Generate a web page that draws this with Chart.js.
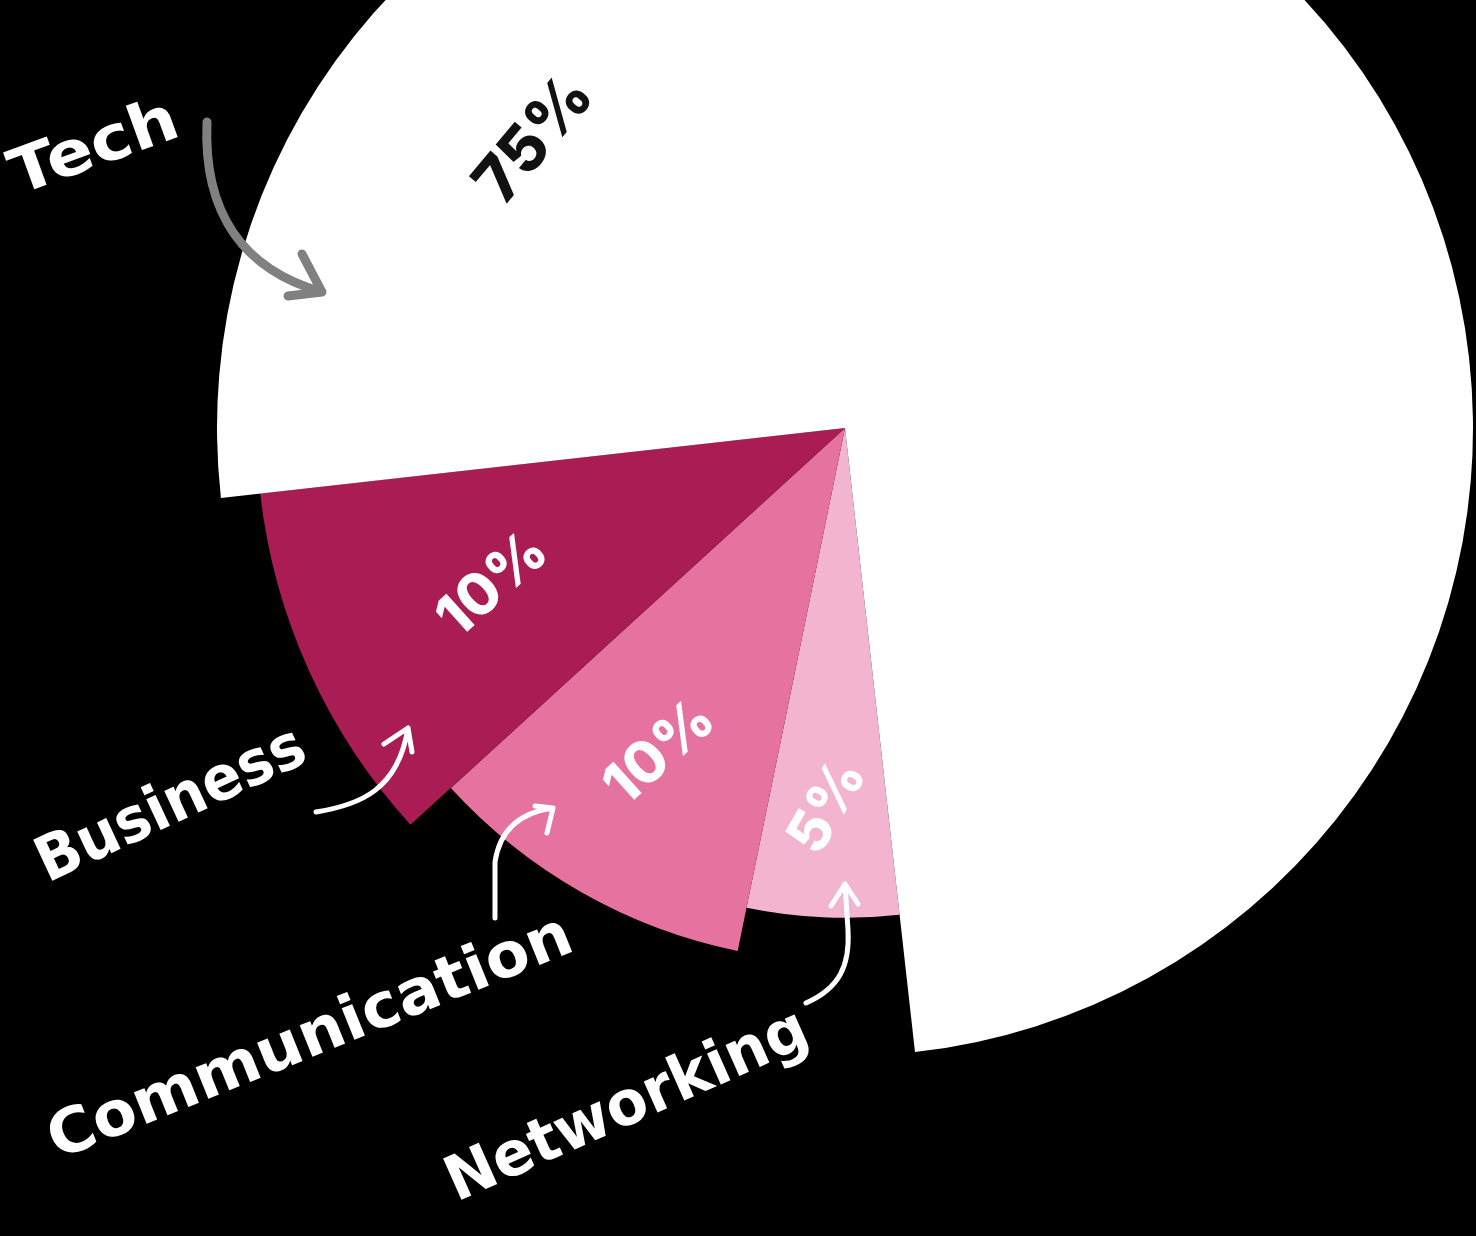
<!DOCTYPE html>
<html>
<head>
<meta charset="utf-8">
<title>Skills pie</title>
<script src="https://cdn.jsdelivr.net/npm/chart.js@4.4.1/dist/chart.umd.min.js"></script>
<style>
    html, body { margin: 0; padding: 0; background: #000; overflow: hidden; }
    body { width: 1476px; height: 1236px; position: relative; }
    #wrap { position: absolute; left: 0; top: -200px; width: 1476px; height: 1436px; }
</style>
</head>
<body>
<div id="wrap"><canvas id="myPieChart"></canvas></div>
<script>
// data, in drawing order (clockwise)
var categories = ['Networking', 'Communication', 'Business', 'Tech'];
var shares = [5, 10, 10, 75];
var percentLabels = ['5%', '10%', '10%', '75%'];

// styles
var sliceColors = ['#f2b4ce', '#e672a0', '#a91c54', '#ffffff'];
var radiusScale = [0.78, 0.85, 0.937, 1];

// label placement relative to pie centre: [dx, dy, rotation deg]
var pctPlace = [[-17, 379, -60], [-185, 325, -42], [-352, 157, -42], [-310, -288, -50]];
var pctColor = ['#fff', '#fff', '#fff', '#111'];
var namePlace = [[-217, 680, -24, 390], [-534, 612, -22, 560], [-673, 379, -25, 290], [-750, -278, -20, 175]];

// arrows: start, then segments (bezier = 3 pts, quad = 2, line = 1), tip arms
var arrows = [
    { color: '#fff', width: 5, start: [-39, 575], segs: [[[-5, 560], [5, 537], [3, 502]], [[0, 456]]], arms: [[-14, 478], [13, 476]] },
    { color: '#fff', width: 5, start: [-350, 490], segs: [[[-350, 434]], [[-343, 387], [-292, 380]]], arms: [[-310, 378], [-298, 405]] },
    { color: '#fff', width: 5, start: [-529, 384], segs: [[[-485, 377], [-447, 362], [-437, 300]]], arms: [[-461, 316], [-433, 324]] },
    { color: '#808080', width: 9, start: [-638, -306], segs: [[[-642, -213], [-600, -158], [-523, -136]]], arms: [[-543, -174], [-557, -132]] }
];

var shrinkSlices = {
    id: 'shrinkSlices',
    afterDatasetsUpdate: function (chart) {
        var meta = chart.getDatasetMeta(0);
        for (var i = 0; i < meta.data.length; i++) {
            meta.data[i].outerRadius = meta.data[i].outerRadius * radiusScale[i];
        }
    }
};

var annotations = {
    id: 'annotations',
    afterDraw: function (chart) {
        var ctx = chart.ctx;
        var arc = chart.getDatasetMeta(0).data[0];
        var cx = arc.x, cy = arc.y;

        // arrows
        arrows.forEach(function (a) {
            ctx.save();
            ctx.strokeStyle = a.color;
            ctx.lineWidth = a.width;
            ctx.lineCap = 'round';
            ctx.lineJoin = 'round';
            ctx.beginPath();
            ctx.moveTo(cx + a.start[0], cy + a.start[1]);
            var tip = a.start;
            a.segs.forEach(function (s) {
                if (s.length === 3) {
                    ctx.bezierCurveTo(cx + s[0][0], cy + s[0][1], cx + s[1][0], cy + s[1][1], cx + s[2][0], cy + s[2][1]);
                } else if (s.length === 2) {
                    ctx.quadraticCurveTo(cx + s[0][0], cy + s[0][1], cx + s[1][0], cy + s[1][1]);
                } else {
                    ctx.lineTo(cx + s[0][0], cy + s[0][1]);
                }
                tip = s[s.length - 1];
            });
            a.arms.forEach(function (p) {
                ctx.moveTo(cx + tip[0], cy + tip[1]);
                ctx.lineTo(cx + p[0], cy + p[1]);
            });
            ctx.stroke();
            ctx.restore();
        });

        // percentages
        for (var i = 0; i < percentLabels.length; i++) {
            var p = pctPlace[i];
            ctx.save();
            ctx.translate(cx + p[0], cy + p[1]);
            ctx.rotate(p[2] * Math.PI / 180);
            ctx.font = '800 ' + (i === 3 ? 64 : 58) + 'px Inter, Lato, sans-serif';
            ctx.fillStyle = pctColor[i];
            ctx.textAlign = 'center';
            ctx.textBaseline = 'middle';
            ctx.fillText(percentLabels[i], 0, 0);
            ctx.restore();
        }

        // category names
        for (var j = 0; j < categories.length; j++) {
            var n = namePlace[j];
            ctx.save();
            ctx.translate(cx + n[0], cy + n[1]);
            ctx.rotate(n[2] * Math.PI / 180);
            ctx.font = 'bold 62px "DejaVu Sans", sans-serif';
            var w = ctx.measureText(categories[j]).width;
            ctx.scale(n[3] / w, 1);
            ctx.fillStyle = '#fff';
            ctx.textAlign = 'center';
            ctx.textBaseline = 'middle';
            ctx.fillText(categories[j], 0, 0);
            ctx.restore();
        }
    }
};

var ctx_pie = document.getElementById('myPieChart');

var MyPieChart = new Chart(ctx_pie, {
    type: 'pie',
    data: {
        labels: categories,
        datasets: [{
            data: shares,
            backgroundColor: sliceColors,
            borderWidth: 0,
            hoverOffset: 0
        }]
    },
    options: {
        responsive: true,
        maintainAspectRatio: false,
        animation: false,
        events: [],
        rotation: 173.6,
        layout: { padding: { left: 217, right: 3, top: 0, bottom: 180 } },
        plugins: {
            legend: { display: false },
            tooltip: { enabled: false }
        }
    },
    plugins: [shrinkSlices, annotations]
});
</script>
</body>
</html>
